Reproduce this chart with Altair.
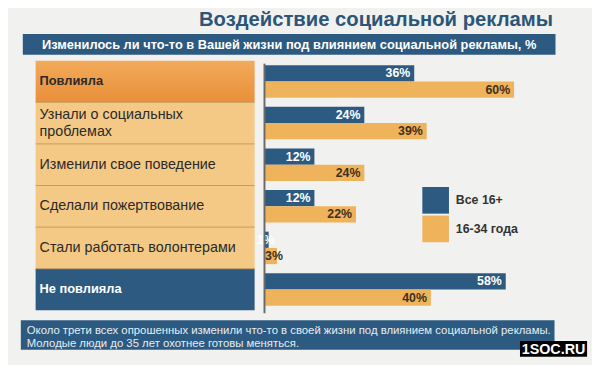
import altair as alt
import pandas as pd

# ---------------- data ----------------
categories = [
    "Повлияла",
    "Узнали о социальных\nпроблемах",
    "Изменили свое поведение",
    "Сделали пожертвование",
    "Стали работать волонтерами",
    "Не повлияла",
]
row_kind = ["top", "mid", "mid", "mid", "mid", "bottom"]
series_names = ["Все 16+", "16-34 года"]
all_16 = [36, 24, 12, 12, 1, 58]
age_16_34 = [60, 39, 24, 22, 3, 40]

title_text = ["Воздействие социальной рекламы"]
subtitle_text = ["Изменилось ли что-то в Вашей жизни под влиянием социальной рекламы, %"]
footer_text = ["Около трети всех опрошенных изменили что-то в своей жизни под влиянием социальной рекламы.\n"
               "Молодые люди до 35 лет охотнее готовы меняться."]
watermark_text = ["1SOC.RU"]

# ---------------- style ----------------
FONT = "Liberation Sans"
BLUE = "#2c5a80"
ORANGE = "#efb35c"
LIGHT_ROW = "#f4c985"
BG = "#f1f1ef"

rows = []
for i, c in enumerate(categories):
    rows.append({"cat": c, "series": series_names[0], "value": all_16[i]})
    rows.append({"cat": c, "series": series_names[1], "value": age_16_34[i]})
bars_df = pd.DataFrame(rows)
bars_df["label"] = bars_df["value"].astype(str) + "%"

table_df = pd.DataFrame({"cat": categories, "kind": row_kind, "idx": list(range(len(categories)))})
table_df["multi"] = table_df["cat"].str.contains("\n")

yscale = alt.Scale(domain=categories, range=[51, 304], paddingInner=0, paddingOuter=0)
Y = alt.Y("cat:N", scale=yscale, axis=None, sort=categories)
xscale = alt.Scale(domain=[0, 60], range=[260, 513], zero=True, nice=False)
X = alt.X("value:Q", scale=xscale, axis=None)
YOFF = alt.YOffset("series:N", sort=series_names,
                   scale=alt.Scale(domain=series_names, paddingOuter=0.28, paddingInner=0))

# ---------------- table on the left ----------------
top_row = alt.Chart(table_df).transform_filter(alt.datum.kind == "top").mark_rect(
    fill=alt.LinearGradient(
        gradient="linear",
        stops=[alt.GradientStop(color="#f2ab5a", offset=0),
               alt.GradientStop(color="#e98f3b", offset=1)],
        x1=0, x2=0, y1=0, y2=1,
    )
).encode(y=Y, x=alt.value(28), x2=alt.value(250))

mid_rows = alt.Chart(table_df).transform_filter(alt.datum.kind == "mid").mark_rect(
    fill=LIGHT_ROW
).encode(y=Y, x=alt.value(28), x2=alt.value(250))

bottom_row = alt.Chart(table_df).transform_filter(alt.datum.kind == "bottom").mark_rect(
    fill=BLUE
).encode(y=Y, x=alt.value(28), x2=alt.value(250))

separators = alt.Chart(table_df).transform_filter(alt.datum.idx > 0).mark_rule(
    color="#c79a5c", strokeWidth=1
).encode(y=alt.Y("cat:N", scale=yscale, axis=None, sort=categories, bandPosition=0),
         x=alt.value(28), x2=alt.value(250))

mid_text = alt.Chart(table_df).transform_filter(
    (alt.datum.kind == "mid") & (alt.datum.multi == False)
).mark_text(
    align="left", baseline="middle", font=FONT, fontSize=14.5, color="#2a2a2a"
).encode(y=Y, x=alt.value(32), text="cat:N")

multi_text = alt.Chart(table_df).transform_filter(alt.datum.multi == True).mark_text(
    align="left", baseline="middle", font=FONT, fontSize=14.5, lineBreak="\n",
    lineHeight=17, dy=-8, color="#2a2a2a"
).encode(y=Y, x=alt.value(32), text="cat:N")

top_text = alt.Chart(table_df).transform_filter(alt.datum.kind == "top").mark_text(
    align="left", baseline="middle", font=FONT, fontSize=13, fontWeight="bold",
    color="#2a2a2a"
).encode(y=Y, x=alt.value(32), text="cat:N")

bottom_text = alt.Chart(table_df).transform_filter(alt.datum.kind == "bottom").mark_text(
    align="left", baseline="middle", font=FONT, fontSize=13, fontWeight="bold",
    color="white"
).encode(y=Y, x=alt.value(32), text="cat:N")

# ---------------- bars ----------------
bars = alt.Chart(bars_df).mark_bar().encode(
    x=X, y=Y, yOffset=YOFF,
    color=alt.Color("series:N", sort=series_names,
                    scale=alt.Scale(domain=series_names, range=[BLUE, ORANGE]),
                    legend=alt.Legend(
                        title=None, orient="none", legendX=420, legendY=179,
                        symbolType="square", symbolSize=729, symbolStrokeWidth=0,
                        symbolOpacity=1, labelFont=FONT, labelFontSize=12.5,
                        labelFontWeight="bold", labelColor="#333333",
                        labelOffset=7, rowPadding=2, padding=0,
                    )),
)

label_color = alt.condition(alt.datum.series == series_names[0],
                            alt.value("white"), alt.value("#3d3020"))

labels_big = alt.Chart(bars_df).transform_filter(alt.datum.value >= 5).mark_text(
    align="right", baseline="middle", dx=-4, font=FONT, fontSize=12.5, fontWeight="bold"
).encode(x=X, y=Y, yOffset=YOFF, text="label:N", color=label_color)

labels_small = alt.Chart(bars_df).transform_filter(alt.datum.value < 5).mark_text(
    align="right", baseline="middle", dx=6, font=FONT, fontSize=12.5, fontWeight="bold"
).encode(x=X, y=Y, yOffset=YOFF, text="label:N", color=label_color)

axis_line = alt.Chart(pd.DataFrame({"z": [0]})).mark_rule(
    color="#6a6a6a", strokeWidth=2
).encode(x=alt.X("z:Q", scale=xscale, axis=None), y=alt.value(54), y2=alt.value(307))

# ---------------- title, subtitle, footer, watermark ----------------
title = alt.Chart(pd.DataFrame({"t": title_text})).mark_text(
    align="center", baseline="alphabetic", font=FONT, fontSize=20.5, fontWeight="bold",
    color="#2d5577"
).encode(x=alt.value(373), y=alt.value(16), text="t:N")

sub_box = alt.Chart(pd.DataFrame({"t": subtitle_text})).mark_rect(fill=BLUE).encode(
    x=alt.value(15), x2=alt.value(555), y=alt.value(24), y2=alt.value(45))
sub_text = alt.Chart(pd.DataFrame({"t": subtitle_text})).mark_text(
    align="center", baseline="middle", font=FONT, fontSize=13, fontWeight="bold",
    color="white"
).encode(x=alt.value(285), y=alt.value(35), text="t:N")

foot_box = alt.Chart(pd.DataFrame({"t": footer_text})).mark_rect(fill=BLUE).encode(
    x=alt.value(13), x2=alt.value(554), y=alt.value(314), y2=alt.value(344))
foot_text = alt.Chart(pd.DataFrame({"t": footer_text})).mark_text(
    align="left", baseline="alphabetic", font=FONT, fontSize=11.5, lineBreak="\n",
    lineHeight=13, color="#e6edf3"
).encode(x=alt.value(19), y=alt.value(328), text="t:N")

wm_box = alt.Chart(pd.DataFrame({"t": watermark_text})).mark_rect(fill="black").encode(
    x=alt.value(519), x2=alt.value(587), y=alt.value(335), y2=alt.value(351))
wm_text = alt.Chart(pd.DataFrame({"t": watermark_text})).mark_text(
    align="center", baseline="middle", font=FONT, fontSize=14.5, fontWeight="bold",
    color="white"
).encode(x=alt.value(553), y=alt.value(344), text="t:N")

chart = alt.layer(
    top_row, mid_rows, bottom_row, separators, mid_text, multi_text, top_text, bottom_text,
    bars, labels_big, labels_small, axis_line,
    title, sub_box, sub_text, foot_box, foot_text, wm_box, wm_text,
).properties(
    width=592, height=357, autosize="none", padding=0, background=BG
).configure_view(strokeWidth=0)

chart.save("out.html", embed_options={"renderer": "svg", "actions": False})
